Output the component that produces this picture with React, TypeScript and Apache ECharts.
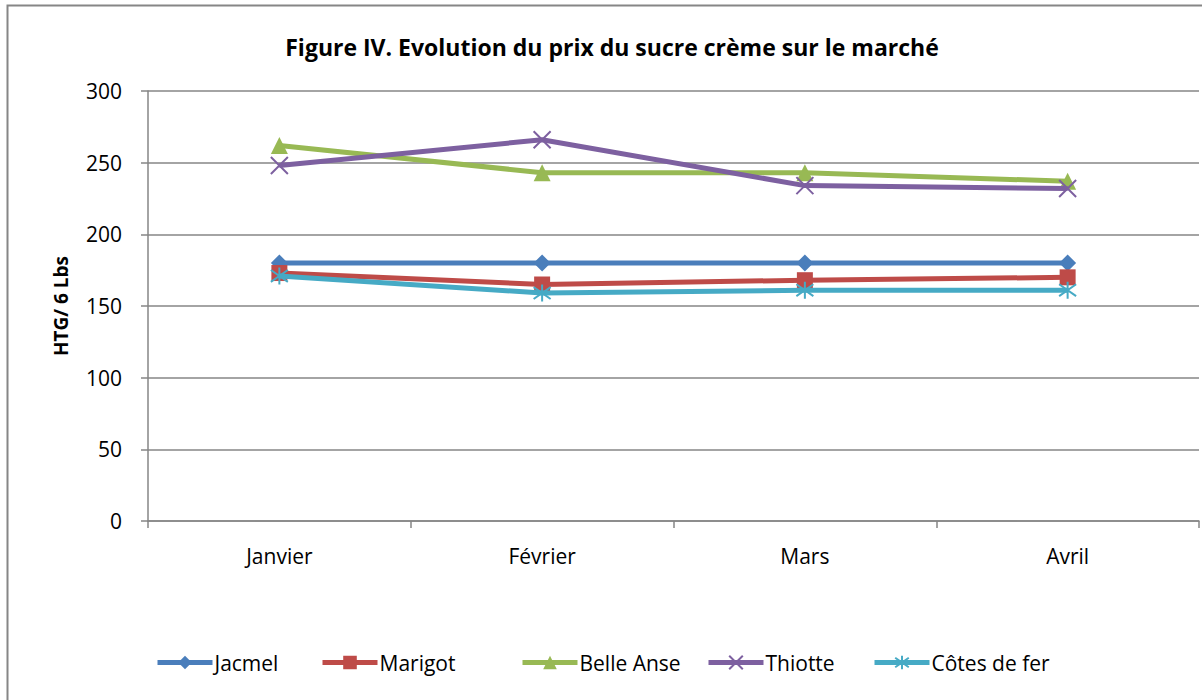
import React, { useEffect, useRef } from "react";
import * as echarts from "echarts";

const months = ["Janvier", "Février", "Mars", "Avril"];
const jacmel = [180, 180, 180, 180];
const marigot = [173, 165, 168, 170];
const belleAnse = [262, 243, 243, 237];
const thiotte = [248, 266, 234, 232];
const cotesDeFer = [171, 159, 161, 161];
const seriesNames = ["Jacmel", "Marigot", "Belle Anse", "Thiotte", "Côtes de fer"];
const yTicks = { min: 0, max: 300, interval: 50 };

const FONT = "'Open Sans', Lato, sans-serif";

export default function App() {
  const ref = useRef<HTMLDivElement>(null);
  useEffect(() => {
    if (!ref.current) return;
    const chart = echarts.init(ref.current, null, { renderer: "svg" });
    const colors = ["#4A7EBB", "#BE4B48", "#98B954", "#7D60A0", "#46AAC5"];
    const symbols = [
      "diamond",
      "rect",
      "triangle",
      "path://M0,0 L10,10 M10,0 L0,10",
      "path://M5,0 L5,10 M0,1.5 L10,8.5 M10,1.5 L0,8.5",
    ];
    const symbolSizes = [17, 16, 17, 17, 17];
    const legendLefts = [155, 320, 520, 706, 872];
    const data = [jacmel, marigot, belleAnse, thiotte, cotesDeFer];
    const series = seriesNames.map((name, i) => {
      const stroked = i >= 3;
      return {
        name,
        type: "line",
        data: data[i],
        symbol: symbols[i],
        symbolSize: symbolSizes[i],
        showAllSymbol: true,
        lineStyle: { color: colors[i], width: 5 },
        itemStyle: stroked
          ? { color: colors[i], borderColor: colors[i], borderWidth: 2 }
          : { color: colors[i], borderWidth: 0 },
        emphasis: { disabled: true },
        z: 2 + i,
      };
    });
    chart.setOption({
      animation: false,
      backgroundColor: "#ffffff",
      title: {
        text: "Figure IV. Evolution du prix du sucre crème sur le marché",
        left: 607,
        textAlign: "center",
        top: 30,
        textStyle: { fontFamily: FONT, fontSize: 23, fontWeight: "bold", color: "#000" },
      },
      graphic: [
        {
          type: "rect",
          shape: { x: 7.5, y: 5.5, width: 1210, height: 710 },
          style: { fill: "none", stroke: "#868686", lineWidth: 2 },
          silent: true,
        },
      ],
      grid: { left: 148, right: 3, top: 91, bottom: 179, containLabel: false },
      legend: seriesNames.map((name, i) => ({
        data: [name],
        left: legendLefts[i],
        top: 652,
        padding: 0,
        itemWidth: 55,
        itemHeight: 17,
        lineStyle: { width: 5 },
        textStyle: { fontFamily: FONT, fontSize: 21, color: "#000", padding: [0, 0, 0, -3] },
      })),
      xAxis: {
        type: "category",
        data: months,
        boundaryGap: true,
        axisLine: { lineStyle: { color: "#868686", width: 1.5 } },
        axisTick: { show: true, length: 7, lineStyle: { color: "#868686", width: 1.5 } },
        axisLabel: { fontFamily: FONT, fontSize: 21, color: "#000", margin: 24 },
      },
      yAxis: {
        type: "value",
        min: yTicks.min,
        max: yTicks.max,
        interval: yTicks.interval,
        name: "HTG/ 6 Lbs",
        nameLocation: "middle",
        nameGap: 78,
        nameRotate: 90,
        nameTextStyle: { fontFamily: FONT, fontSize: 19, fontWeight: "bold", color: "#000" },
        axisLine: { show: true, lineStyle: { color: "#868686", width: 1.5 } },
        axisTick: { show: true, length: 7, lineStyle: { color: "#868686", width: 1.5 } },
        axisLabel: { fontFamily: FONT, fontSize: 21, color: "#000", margin: 26 },
        splitLine: { lineStyle: { color: "#868686", width: 1.5 } },
      },
      series,
    });
    return () => chart.dispose();
  }, []);
  return (
    <div
      ref={ref}
      style={{ position: "absolute", left: 0, top: 0, width: 1202, height: 700 }}
    />
  );
}
